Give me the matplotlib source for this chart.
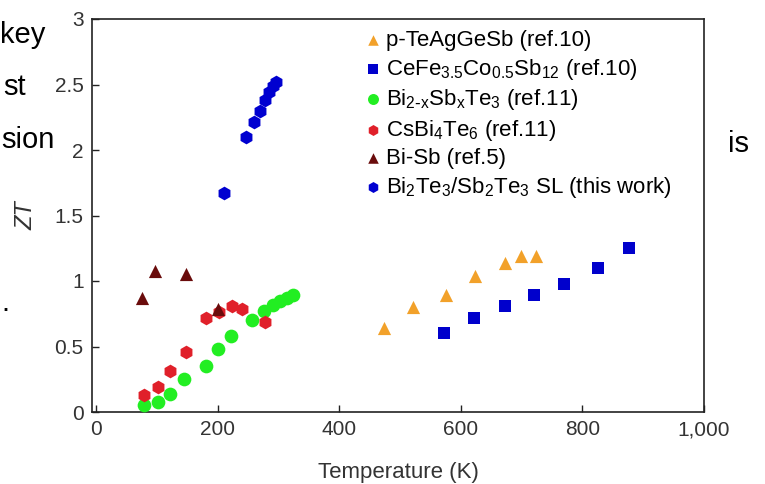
import matplotlib
matplotlib.use('Agg')
import matplotlib.pyplot as plt
from matplotlib.ticker import FuncFormatter

plt.rcParams['font.family'] = ['Liberation Sans', 'DejaVu Sans']
plt.rcParams['mathtext.default'] = 'regular'

# data (T in K, ZT)
teag_T = [473, 522, 575, 623, 673, 699, 724]
teag_zt = [0.64, 0.80, 0.89, 1.04, 1.14, 1.19, 1.19]

cefe_T = [572, 621, 673, 721, 770, 825, 876]
cefe_zt = [0.60, 0.72, 0.81, 0.89, 0.98, 1.10, 1.25]

bisbte_T = [79, 101, 122, 145, 180, 200, 221, 256, 276, 291, 302, 314, 324]
bisbte_zt = [0.05, 0.08, 0.14, 0.25, 0.35, 0.48, 0.58, 0.70, 0.77, 0.82, 0.85, 0.87, 0.89]

csbi_T = [79, 101, 121, 147, 180, 202, 223, 240, 278]
csbi_zt = [0.13, 0.19, 0.31, 0.46, 0.72, 0.76, 0.81, 0.79, 0.69]

bisb_T = [76, 96, 147, 200]
bisb_zt = [0.87, 1.08, 1.05, 0.79]

sl_T = [210, 246, 259, 269, 278, 284, 291, 296]
sl_zt = [1.67, 2.10, 2.21, 2.30, 2.38, 2.44, 2.49, 2.52]

W, H = 765, 484
fig = plt.figure(figsize=(W / 100, H / 100), dpi=100)
ax = fig.add_axes([92 / W, 1 - 412 / H, (704 - 92) / W, (412 - 19) / H])

ms = 75
ax.scatter(teag_T, teag_zt, marker='^', s=ms * 1.2, c='#f2a12a', lw=0,
           label='p-TeAgGeSb (ref.10)', clip_on=False, zorder=3)
ax.scatter(cefe_T, cefe_zt, marker='s', s=ms, c='#0000cc', lw=0,
           label=r'CeFe$_{3.5}$Co$_{0.5}$Sb$_{12}$ (ref.10)', clip_on=False, zorder=3)
ax.scatter(bisbte_T, bisbte_zt, marker='o', s=ms * 1.3, c='#22ee22', lw=0,
           label=r'Bi$_{2\text{-}x}$Sb$_x$Te$_3$ (ref.11)', clip_on=False, zorder=3)
ax.scatter(csbi_T, csbi_zt, marker='h', s=ms * 1.3, c='#e0202a', lw=0,
           label=r'CsBi$_4$Te$_6$ (ref.11)', clip_on=False, zorder=3)
ax.scatter(bisb_T, bisb_zt, marker='^', s=ms * 1.2, c='#6a0c0c', lw=0,
           label='Bi-Sb (ref.5)', clip_on=False, zorder=4)
ax.scatter(sl_T, sl_zt, marker='h', s=ms * 1.3, c='#0000d0', lw=0,
           label=r'Bi$_2$Te$_3$/Sb$_2$Te$_3$ SL (this work)', clip_on=False, zorder=3)

ax.set_xlim(-7, 1000)
ax.set_ylim(0, 3)
ax.set_xticks([0, 200, 400, 600, 800, 1000])
ax.set_yticks([0, 0.5, 1, 1.5, 2, 2.5, 3])
ax.xaxis.set_major_formatter(FuncFormatter(lambda v, p: f'{v:,.0f}'))
ax.yaxis.set_major_formatter(FuncFormatter(lambda v, p: f'{v:g}'))
ax.tick_params(direction='in', length=5, width=1, labelsize=15,
               labelcolor='#333333', color='#222222', pad=6)
for sp in ax.spines.values():
    sp.set_linewidth(1.2)
    sp.set_color('#222222')

ax.set_xlabel('Temperature (K)', fontsize=16, color='#333333', labelpad=16)
ax.set_ylabel('ZT', fontsize=17, fontstyle='italic', color='#333333', labelpad=12)

ax.legend(loc='upper left', bbox_to_anchor=(362 / W, 1 - 30 / H),
          bbox_transform=fig.transFigure, frameon=False, fontsize=16,
          markerscale=0.8, handletextpad=0.1, handlelength=1.0,
          labelspacing=0.25, borderpad=0, borderaxespad=0)

# surrounding document text, cropped off at the edges of the screenshot
fig.text(45 / W, 1 - 43 / H, 'key', fontsize=21, family='Liberation Sans',
         ha='right', va='baseline')
fig.text(26 / W, 1 - 95 / H, 'st', fontsize=21, family='Liberation Sans',
         ha='right', va='baseline')
fig.text(1 / W, 1 - 148 / H, 'sion', fontsize=21, family='Liberation Sans',
         ha='left', va='baseline')
fig.text(1 / W, 1 - 311 / H, '.', fontsize=21, family='Liberation Sans',
         ha='left', va='baseline')
fig.text(728 / W, 1 - 152 / H, 'is', fontsize=21, family='Liberation Sans',
         ha='left', va='baseline')

fig.savefig('out.png', dpi=100)
